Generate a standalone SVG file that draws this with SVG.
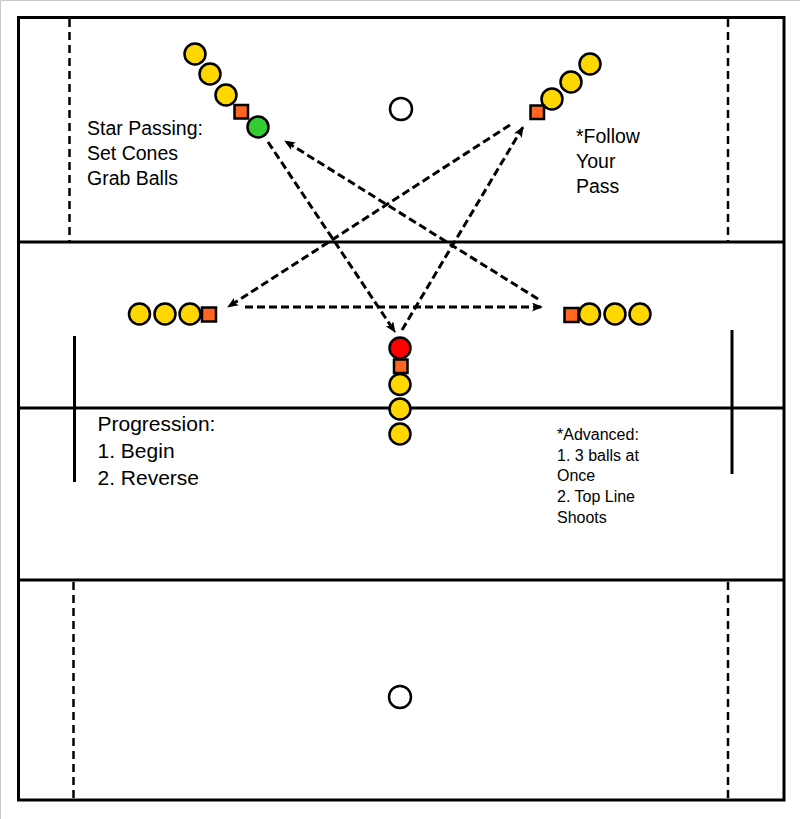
<svg xmlns="http://www.w3.org/2000/svg" width="800" height="819" viewBox="0 0 800 819">
<defs>
<style>
.field{fill:none;stroke:#000;stroke-width:3}
.solid{stroke:#000;stroke-width:3}
.dash{stroke:#000;stroke-width:2.5;stroke-dasharray:8 5}
.ball{stroke:#000;stroke-width:2.5}
.y{fill:#FFD700}
.cone{fill:#FF6622;stroke:#000;stroke-width:2.5}
.pass{fill:none;stroke:#000;stroke-width:3;stroke-dasharray:8 4}
.t{font-family:"Liberation Sans",Arial,sans-serif;fill:#000}
</style>
<marker id="ah" viewBox="0 0 11 9" refX="10" refY="4.5" markerWidth="11" markerHeight="9" markerUnits="userSpaceOnUse" orient="auto">
<path d="M0,0 L11,4.5 L0,9 L2.5,4.5 z" fill="#000"/>
</marker>
</defs>
<rect x="0" y="0" width="800" height="819" fill="#fff"/>
<path d="M0.5,819 V0.5 H800" fill="none" stroke="#c8c8c8" stroke-width="1"/>
<g id="field">
<rect class="field" x="18.5" y="17.5" width="765.5" height="782.5"/>
<line class="solid" x1="18" y1="242" x2="784" y2="242"/>
<line class="solid" x1="18" y1="408" x2="784" y2="408"/>
<line class="solid" x1="18" y1="580" x2="784" y2="580"/>
<line class="dash" x1="69.5" y1="19" x2="69.5" y2="242"/>
<line class="dash" x1="728" y1="19" x2="728" y2="242"/>
<line class="dash" x1="73.5" y1="582" x2="73.5" y2="800"/>
<line class="dash" x1="728" y1="582" x2="728" y2="800"/>
<line class="solid" x1="74.5" y1="336" x2="74.5" y2="482"/>
<line class="solid" x1="732" y1="330" x2="732" y2="474"/>
<circle cx="401" cy="109" r="11" fill="#fff" stroke="#000" stroke-width="2.5"/>
<circle cx="400" cy="697" r="11" fill="#fff" stroke="#000" stroke-width="2.5"/>
</g>
<g id="connectors">
<line class="pass" x1="268" y1="142" x2="395" y2="332" marker-end="url(#ah)"/>
<line class="pass" x1="538" y1="299" x2="285" y2="141" marker-end="url(#ah)"/>
<line class="pass" x1="510" y1="125" x2="228" y2="307" marker-end="url(#ah)"/>
<line class="pass" x1="245" y1="307" x2="542" y2="307" marker-end="url(#ah)"/>
<line class="pass" x1="402" y1="330" x2="523" y2="127" marker-end="url(#ah)"/>
</g>
<g id="line-top-left">
<circle class="ball y" cx="195" cy="54" r="10.5"/>
<circle class="ball y" cx="210" cy="74" r="10.5"/>
<circle class="ball y" cx="226" cy="95" r="10.5"/>
<rect class="cone" x="234.5" y="105" width="13.5" height="13.5"/>
<circle class="ball" cx="258" cy="127" r="10.5" fill="#33CC33"/>
</g>
<g id="line-top-right">
<circle class="ball y" cx="590" cy="64" r="10.5"/>
<circle class="ball y" cx="571" cy="82" r="10.5"/>
<circle class="ball y" cx="552" cy="99" r="10.5"/>
<rect class="cone" x="530.5" y="105.5" width="13.5" height="13.5"/>
</g>
<g id="line-left">
<circle class="ball y" cx="139.5" cy="314" r="10.5"/>
<circle class="ball y" cx="165" cy="314" r="10.5"/>
<circle class="ball y" cx="190" cy="314" r="10.5"/>
<rect class="cone" x="202" y="307.5" width="14" height="14"/>
</g>
<g id="line-right">
<rect class="cone" x="564.5" y="308" width="14" height="14"/>
<circle class="ball y" cx="589.5" cy="314" r="10.5"/>
<circle class="ball y" cx="615" cy="314" r="10.5"/>
<circle class="ball y" cx="640" cy="314" r="10.5"/>
</g>
<g id="line-center">
<circle class="ball y" cx="400" cy="434" r="10.5"/>
<circle class="ball y" cx="400" cy="409" r="10.5"/>
<circle class="ball y" cx="400" cy="384.5" r="10.5"/>
<rect class="cone" x="394" y="359.5" width="13.5" height="13.5"/>
<circle class="ball" cx="400" cy="348" r="10.5" fill="#FF0000"/>
</g>
<g id="text-star">
<text class="t" font-size="19.5"><tspan x="87" y="135">Star Passing:</tspan><tspan x="87" y="160">Set Cones</tspan><tspan x="87" y="184.5">Grab Balls</tspan></text>
</g>
<g id="text-follow">
<text class="t" font-size="19.5"><tspan x="576" y="143">*Follow</tspan><tspan x="576" y="168">Your</tspan><tspan x="576" y="193">Pass</tspan></text>
</g>
<g id="text-progression">
<text class="t" font-size="21"><tspan x="97.5" y="431">Progression:</tspan><tspan x="97.5" y="458">1. Begin</tspan><tspan x="97.5" y="485">2. Reverse</tspan></text>
</g>
<g id="text-advanced">
<text class="t" font-size="16"><tspan x="557" y="440">*Advanced:</tspan><tspan x="557" y="460.5">1. 3 balls at</tspan><tspan x="557" y="481">Once</tspan><tspan x="557" y="502">2. Top Line</tspan><tspan x="557" y="522.5">Shoots</tspan></text>
</g>
</svg>
